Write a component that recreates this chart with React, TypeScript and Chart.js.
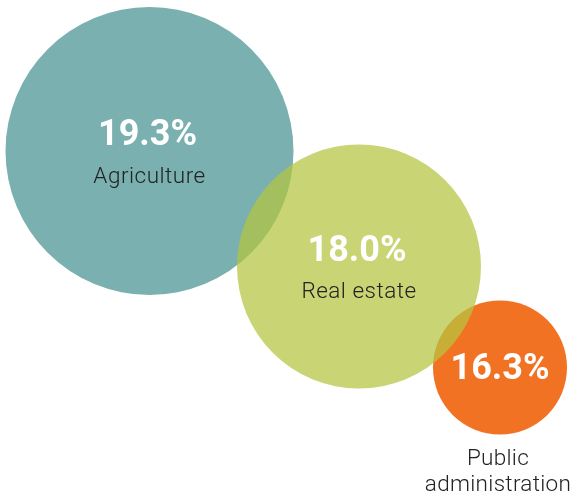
import React, { useEffect, useRef } from "react";
import { Chart, registerables } from "chart.js";

Chart.register(...registerables);

// Data
const categories = ["Agriculture", "Real estate", "Public administration"];
const shares = [19.3, 18.0, 16.3];
const bubbleX = [149.5, 359, 500];
const bubbleY = [151, 266.5, 367.5];
const bubbleR = [144, 122, 67];
const bubbleColors = ["#7AB0B0", "rgba(180,197,62,0.72)", "#F27224"];
const drawOrder = [1, 0, 1];

const labelPlugin = {
  id: "bubbleLabels",
  afterDatasetsDraw(chart: any) {
    const ctx = chart.ctx as CanvasRenderingContext2D;
    ctx.save();
    ctx.textAlign = "center";
    ctx.textBaseline = "alphabetic";
    chart.data.datasets.forEach((ds: any, i: number) => {
      const meta = chart.getDatasetMeta(i);
      const el = meta.data[0];
      if (!el) return;
      const x = el.x;
      const y = el.y;
      const r = el.options.radius;
      const pct = shares[i].toFixed(1) + "%";
      const inside = r > 90;
      ctx.fillStyle = "#ffffff";
      ctx.font = "bold 36px Roboto, 'DejaVu Sans', sans-serif";
      if (inside) {
        ctx.fillText(pct, x - 2, y - 6);
        ctx.fillStyle = "#222222";
        ctx.font = "300 22.5px Roboto, 'DejaVu Sans', sans-serif";
        (ctx as any).letterSpacing = "0.5px";
        ctx.fillText(ds.label, x, y + 31.5);
        (ctx as any).letterSpacing = "0px";
      } else {
        ctx.fillText(pct, x, y + 11.5);
        ctx.fillStyle = "#222222";
        ctx.font = "300 22.5px Roboto, 'DejaVu Sans', sans-serif";
        (ctx as any).letterSpacing = "0.3px";
        const words = String(ds.label).split(" ");
        words.forEach((w: string, k: number) => {
          ctx.fillText(w, x - 2, y + r + 30 + k * 26);
        });
        (ctx as any).letterSpacing = "0px";
      }
    });
    ctx.restore();
  },
};

export default function App() {
  const canvasRef = useRef<HTMLCanvasElement | null>(null);

  useEffect(() => {
    const canvas = canvasRef.current;
    if (!canvas) return;
    const chart = new Chart(canvas, {
      type: "bubble",
      data: {
        datasets: categories.map((c, i) => ({
          label: c,
          data: [{ x: bubbleX[i], y: bubbleY[i], r: bubbleR[i] }],
          backgroundColor: bubbleColors[i],
          hoverBackgroundColor: bubbleColors[i],
          borderWidth: 0,
          hoverBorderWidth: 0,
          hoverRadius: 0,
          order: drawOrder[i],
          clip: false as any,
        })),
      },
      options: {
        responsive: false,
        animation: false,
        devicePixelRatio: 1,
        events: [],
        layout: { padding: 0, autoPadding: false },
        plugins: {
          legend: { display: false },
          tooltip: { enabled: false },
        },
        scales: {
          x: { type: "linear", display: false, min: 0, max: 573 },
          y: { type: "linear", display: false, min: 0, max: 495, reverse: true },
        },
      },
      plugins: [labelPlugin],
    });
    return () => chart.destroy();
  }, []);

  return (
    <div style={{ position: "absolute", left: 0, top: 0, width: 573, height: 495, background: "#ffffff" }}>
      <canvas ref={canvasRef} width={573} height={495} style={{ display: "block" }} />
    </div>
  );
}
